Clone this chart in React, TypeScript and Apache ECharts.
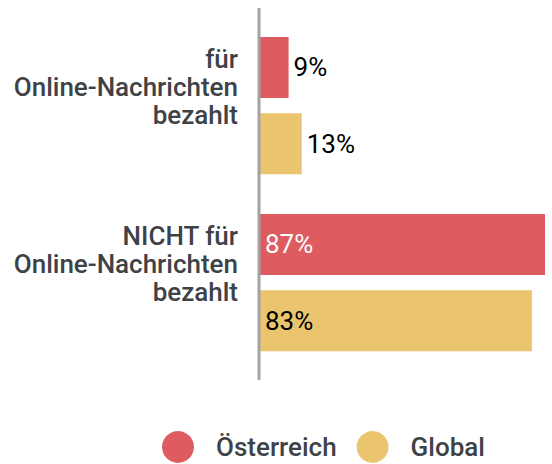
import React, { useEffect, useRef } from "react";
import * as echarts from "echarts";

const categories = ["für\nOnline-Nachrichten\nbezahlt", "NICHT für\nOnline-Nachrichten\nbezahlt"];
const seriesNames = ["Österreich", "Global"];
const oesterreich = [9, 87];
const globalVals = [13, 83];
const colors = ["#de5b5f", "#eac56d"];
const insideLabelColors = ["#ffffff", "#000000"];

export default function App() {
  const ref = useRef<HTMLDivElement>(null);
  useEffect(() => {
    if (!ref.current) return;
    const chart = echarts.init(ref.current, null, { renderer: "svg" });
    const mk = (name: string, vals: number[], i: number) => ({
      name,
      type: "bar",
      barWidth: 61,
      barGap: "25%",
      itemStyle: { color: colors[i] },
      data: vals.map((v) => ({
        value: v,
        label: {
          show: true,
          position: v > 50 ? "insideLeft" : "right",
          distance: v > 50 ? 6 : 5,
          color: v > 50 ? insideLabelColors[i] : "#000000",
          fontSize: 26,
          fontWeight: 400,
          fontFamily: "Roboto",
          formatter: "{c}%",
        },
      })),
    });
    chart.setOption({
      animation: false,
      textStyle: { fontFamily: "Roboto" },
      grid: { left: 259, right: 7, top: 17, bottom: 93, containLabel: false },
      xAxis: {
        type: "value",
        min: 0,
        max: 87,
        show: false,
      },
      yAxis: {
        type: "category",
        data: categories,
        inverse: true,
        axisLine: { show: false },
        axisTick: { show: false },
        axisLabel: {
          fontSize: 26,
          fontWeight: 500,
          lineHeight: 28,
          color: "#3e4247",
          fontFamily: "Roboto",
          margin: 21,
          align: "right",
          formatter: (v: string) => v + "\n{s| }",
          rich: {
            s: { fontSize: 10, lineHeight: 37, height: 37 },
          },
        },
      },
      legend: {
        data: seriesNames,
        left: 162,
        top: 431,
        padding: 0,
        icon: "circle",
        itemWidth: 32,
        itemHeight: 32,
        itemGap: 20,
        textStyle: {
          fontSize: 26,
          fontWeight: 500,
          color: "#3e4247",
          fontFamily: "Roboto",
          padding: [0, 0, 0, 17],
        },
      },
      graphic: [
        {
          type: "line",
          shape: { x1: 259, y1: 8, x2: 259, y2: 380 },
          style: { stroke: "#a3a3a3", lineWidth: 3 },
          z: 10,
        },
      ],
      series: [mk(seriesNames[0], oesterreich, 0), mk(seriesNames[1], globalVals, 1)],
    });
    return () => chart.dispose();
  }, []);
  return <div ref={ref} style={{ position: "absolute", left: 0, top: 0, width: 552, height: 464 }} />;
}
